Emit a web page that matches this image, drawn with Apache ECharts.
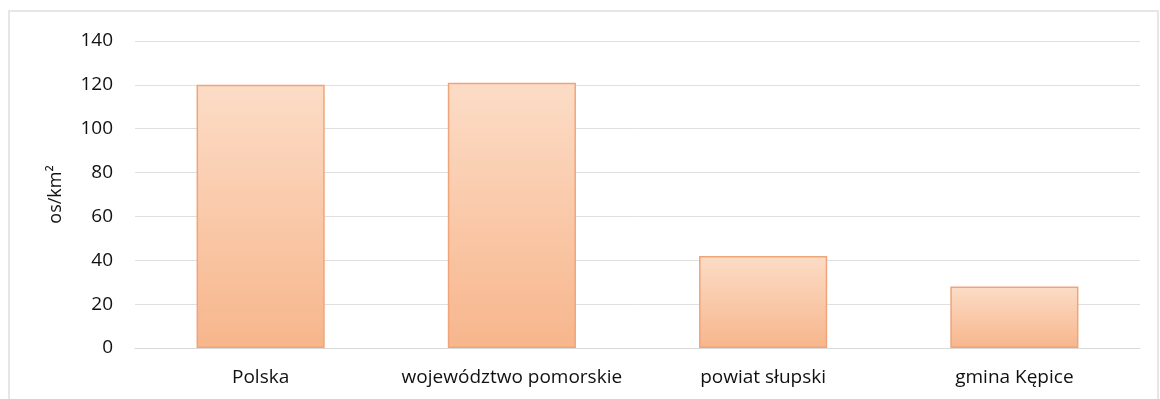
<!DOCTYPE html>
<html><head><meta charset="utf-8">
<script src="https://cdn.jsdelivr.net/npm/echarts@6/dist/echarts.min.js"></script>
<style>html,body{margin:0;padding:0;background:#fff}#c{width:1160px;height:399px}</style>
</head><body><div id="c"></div>
<script>
const categories = ["Polska", "województwo pomorskie", "powiat słupski", "gmina Kępice"];
const values = [120, 121, 42, 28];
const yTicks = [0, 20, 40, 60, 80, 100, 120, 140];
const axisName = "os/km²";

const chart = echarts.init(document.getElementById('c'));
const font = "'Open Sans', 'DejaVu Sans', sans-serif";
chart.setOption({
  animation: false,
  graphic: [{type:'rect', shape:{x:9, y:11, width:1149, height:400}, style:{fill:'none', stroke:'#e6e6e6', lineWidth:2}, silent:true}],
  grid: {left: 135, right: 20, top: 41, bottom: 51},
  xAxis: {
    type: 'category', data: categories,
    axisLine: {lineStyle: {color: '#d9d9d9', width: 1}},
    axisTick: {show: false},
    axisLabel: {color: '#111', fontSize: 19, fontFamily: font, margin: 20, interval: 0, hideOverlap: false}
  },
  yAxis: {
    type: 'value', min: yTicks[0], max: yTicks[yTicks.length-1], interval: 20,
    name: axisName, nameLocation: 'middle', nameGap: 70, nameRotate: 90,
    nameTextStyle: {color: '#111', fontSize: 18, fontFamily: font},
    axisLine: {show: false}, axisTick: {show: false},
    axisLabel: {color: '#111', fontSize: 19, fontFamily: font, margin: 22},
    splitLine: {lineStyle: {color: '#e0e0e0', width: 1}}
  },
  series: [{
    type: 'bar', data: values, barWidth: '51%',
    itemStyle: {
      color: new echarts.graphic.LinearGradient(0, 0, 0, 1, [
        {offset: 0, color: '#fcdcc6'}, {offset: 1, color: '#f7b68c'}
      ]),
      borderColor: '#f0a479', borderWidth: 1.5
    }
  }]
});
</script></body></html>
